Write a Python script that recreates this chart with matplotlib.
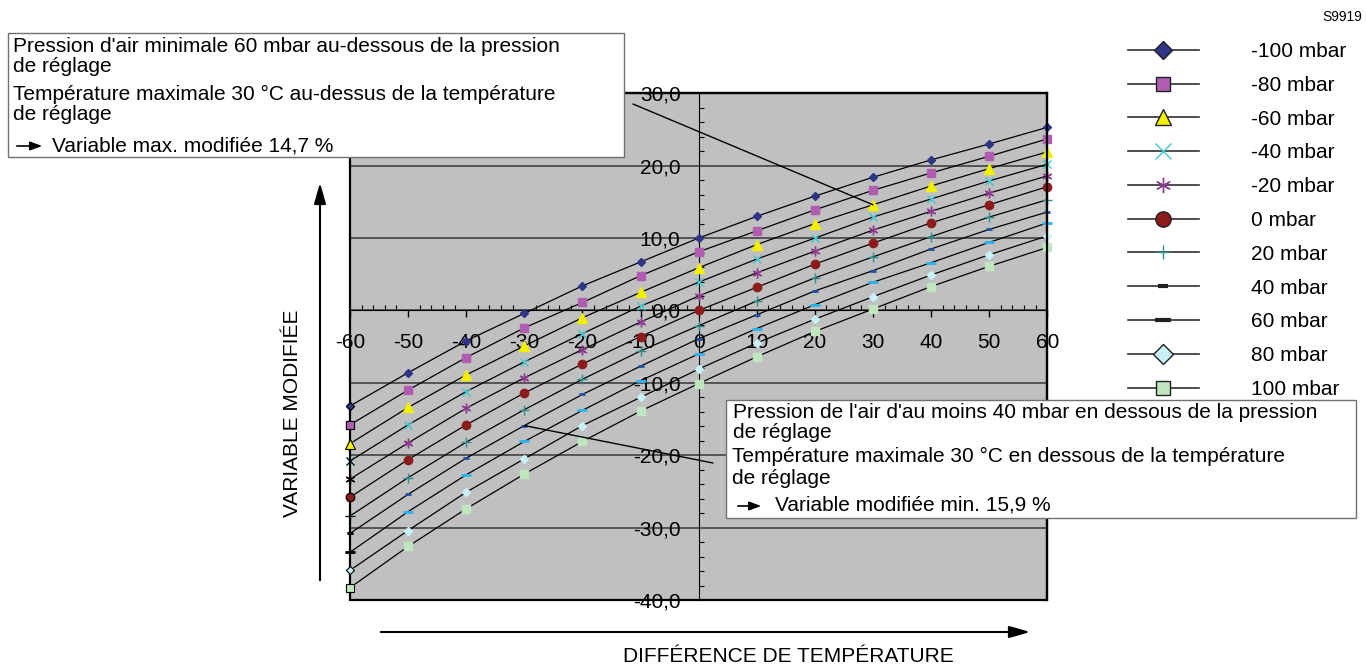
import matplotlib
matplotlib.use('Agg')
import matplotlib.pyplot as plt
from matplotlib.lines import Line2D
from matplotlib.patches import Rectangle, FancyArrowPatch
from matplotlib.ticker import MultipleLocator, FuncFormatter

plt.rcParams['font.family'] = ['Liberation Sans', 'DejaVu Sans']

# data
temp_diff = [-60, -50, -40, -30, -20, -10, 0, 10, 20, 30, 40, 50, 60]
series_labels = ['-100 mbar', '-80 mbar', '-60 mbar', '-40 mbar', '-20 mbar', '0 mbar',
                 '20 mbar', '40 mbar', '60 mbar', '80 mbar', '100 mbar']
v_m100 = [-13.2, -8.6, -4.2, -0.4, 3.4, 6.7, 10.0, 13.0, 15.8, 18.4, 20.8, 23.0, 25.3]
v_m80 = [-15.8, -11.0, -6.5, -2.4, 1.1, 4.8, 8.1, 11.0, 13.9, 16.6, 19.0, 21.3, 23.7]
v_m60 = [-18.4, -13.4, -8.9, -4.9, -1.0, 2.5, 5.9, 9.1, 12.0, 14.6, 17.2, 19.6, 21.9]
v_m40 = [-20.8, -15.8, -11.2, -7.1, -3.2, 0.6, 3.9, 7.1, 10.0, 12.9, 15.4, 17.9, 20.2]
v_m20 = [-23.3, -18.3, -13.5, -9.3, -5.4, -1.6, 2.0, 5.2, 8.2, 11.1, 13.7, 16.2, 18.6]
v_0 = [-25.8, -20.6, -15.8, -11.4, -7.4, -3.6, 0.0, 3.2, 6.4, 9.3, 12.1, 14.6, 17.1]
v_p20 = [-28.4, -23.1, -18.2, -13.7, -9.5, -5.6, -2.1, 1.3, 4.5, 7.4, 10.2, 12.9, 15.3]
v_p40 = [-30.8, -25.4, -20.4, -15.9, -11.6, -7.7, -3.9, -0.6, 2.7, 5.5, 8.5, 11.2, 13.6]
v_p60 = [-33.4, -27.8, -22.7, -18.1, -13.8, -9.7, -6.0, -2.5, 0.8, 3.9, 6.6, 9.4, 12.1]
v_p80 = [-35.9, -30.4, -25.1, -20.5, -15.9, -12.0, -8.1, -4.5, -1.2, 1.9, 4.9, 7.7, 10.3]
v_p100 = [-38.3, -32.6, -27.4, -22.6, -18.1, -13.9, -10.1, -6.4, -2.9, 0.2, 3.3, 6.1, 8.7]
all_values = [v_m100, v_m80, v_m60, v_m40, v_m20, v_0, v_p20, v_p40, v_p60, v_p80, v_p100]

# marker styles: (marker, colour, size in plot, size in legend)
styles = [
    ('D', '#2e3586', 4.5, 9),
    ('s', '#b05cb0', 5.5, 10),
    ('^', '#f0f000', 6.5, 11),
    ('x', '#3cc8d0', 6, 12),
    ((6, 2, 0), '#8c3c8c', 7, 11),
    ('o', '#8c1c1c', 6, 11),
    ('+', '#2a9090', 7, 10),
    ('_', '#2050a0', 4.5, 6.5),
    ('_', '#28b4f0', 7, 12),
    ('D', '#c8f0f8', 4.5, 10),
    ('s', '#bfe6bf', 5.5, 10),
]

W, H = 1366, 666


def fx(x):
    return x / W


def fy(y):
    return 1 - y / H


fig = plt.figure(figsize=(W / 100, H / 100), dpi=100)
ax = fig.add_axes([fx(350), fy(600), (1047.3 - 350) / W, (600 - 93.3) / H])
ax.set_facecolor('#c0c0c0')
ax.set_xlim(-60, 60)
ax.set_ylim(-40, 30)

for vals, (mk, col, ms, _) in zip(all_values, styles):
    ax.plot(temp_diff, vals, color='black', lw=0.9, marker=mk, ms=ms,
            mfc=col, mec=col, mew=2 if mk == '_' else 1, clip_on=False, zorder=3)
    # first point carries the outlined legend-style marker
    ax.plot(temp_diff[:1], vals[:1], ls='none', marker=mk, ms=ms,
            mfc=col if mk != '_' else 'black', mec='black',
            mew=2 if mk == '_' else 0.8, clip_on=False, zorder=4)

# axes through the origin, plus a frame around the plotting area
ax.spines['left'].set_position(('data', 0))
ax.spines['bottom'].set_position(('data', 0))
for side in ['top', 'right']:
    ax.spines[side].set_linewidth(1.6)
ax.add_patch(Rectangle((0, 0), 1, 1, transform=ax.transAxes, fill=False,
                       ec='black', lw=1.6, clip_on=False, zorder=3))

ax.xaxis.set_major_locator(MultipleLocator(10))
ax.xaxis.set_minor_locator(MultipleLocator(2))
ax.yaxis.set_major_locator(MultipleLocator(10))
ax.yaxis.set_minor_locator(MultipleLocator(2))
ax.xaxis.set_major_formatter(FuncFormatter(lambda v, p: f'{v:.0f}'.replace('\u2212', '-')))
ax.yaxis.set_major_formatter(FuncFormatter(lambda v, p: f'{v:.1f}'.replace('.', ',')))
ax.tick_params(axis='x', which='major', direction='out', length=5, width=1, pad=11, labelsize=15)
ax.tick_params(axis='x', which='minor', direction='in', length=3.5, width=0.8)
ax.tick_params(axis='y', which='major', length=0, pad=13, labelsize=15)
ax.tick_params(axis='y', which='minor', direction='in', length=3.5, width=0.8)
ax.yaxis.grid(True, which='major', color='#383838', lw=1.1)

# pointer lines from the note boxes
ax.annotate('', xy=(temp_diff[9], v_m60[9]), xycoords='data',
            xytext=(fx(633), fy(104)), textcoords='figure fraction',
            arrowprops=dict(arrowstyle='-', lw=1, color='black', shrinkA=0, shrinkB=0))
ax.annotate('', xy=(temp_diff[3], v_p40[3]), xycoords='data',
            xytext=(fx(713), fy(463)), textcoords='figure fraction',
            arrowprops=dict(arrowstyle='-', lw=1, color='black', shrinkA=0, shrinkB=0))

# note boxes
fig.add_artist(Rectangle((fx(8), fy(157)), (624 - 8) / W, (157 - 33) / H,
                         transform=fig.transFigure, fc='white', ec='#707070', lw=1, zorder=5))
fig.add_artist(Rectangle((fx(726), fy(518)), (1356 - 726) / W, (518 - 400) / H,
                         transform=fig.transFigure, fc='white', ec='#707070', lw=1, zorder=5))

box_font = 15
upper_lines = [
    (13, 46, "Pression d'air minimale 60 mbar au-dessous de la pression"),
    (13, 67, 'de réglage'),
    (13, 94, 'Température maximale 30 °C au-dessus de la température'),
    (13, 114, 'de réglage'),
    (52, 146, 'Variable max. modifiée 14,7 %'),
]
lower_lines = [
    (733, 413, "Pression de l'air d'au moins 40 mbar en dessous de la pression"),
    (733, 433, 'de réglage'),
    (732, 456, 'Température maximale 30 °C en dessous de la température'),
    (732, 479, 'de réglage'),
    (775, 505, 'Variable modifiée min. 15,9 %'),
]
for x, y, s in upper_lines + lower_lines:
    fig.text(fx(x), fy(y), s, fontsize=box_font, ha='left', va='center', zorder=6)

for x0, x1, y in [(14, 45, 146), (735, 764, 506)]:
    fig.add_artist(FancyArrowPatch((fx(x0), fy(y)), (fx(x1), fy(y)), transform=fig.transFigure,
                                   arrowstyle='-|>,head_length=0.6,head_width=0.22',
                                   mutation_scale=12, lw=1.2, color='black', zorder=6))

# axis direction arrows and titles
fig.add_artist(FancyArrowPatch((fx(320), fy(583)), (fx(320), fy(180)), transform=fig.transFigure,
                               arrowstyle='-|>,head_length=0.7,head_width=0.2',
                               mutation_scale=18, lw=1.5, color='black'))
fig.add_artist(FancyArrowPatch((fx(378), fy(632)), (fx(1033), fy(632)), transform=fig.transFigure,
                               arrowstyle='-|>,head_length=0.7,head_width=0.2',
                               mutation_scale=18, lw=1.5, color='black'))
fig.text(fx(293), fy(413), 'VARIABLE MODIFIÉE', rotation=90, ha='center', va='center', fontsize=15)
fig.text(fx(788), fy(657), 'DIFFÉRENCE DE TEMPÉRATURE', ha='center', va='center', fontsize=15)
fig.text(fx(1342), fy(17), 'S9919', ha='center', va='center', fontsize=10)

# legend
handles = []
for (mk, col, _, lms), lab in zip(styles, series_labels):
    plain = mk in ('x', '+') or isinstance(mk, tuple)
    handles.append(Line2D([], [], color='#303030', lw=1.2, marker=mk, ms=lms,
                          mfc=col if mk != '_' else 'black',
                          mec=col if plain else '#202020',
                          mew=1 if mk != '_' else 3, label=lab))
fig.legend(handles=handles, loc='upper left', bbox_to_anchor=(fx(1128), fy(42)),
           frameon=False, fontsize=15, handlelength=3.4, handletextpad=2.5,
           labelspacing=0.71, borderpad=0, borderaxespad=0)

fig.savefig('out.png', dpi=100)
